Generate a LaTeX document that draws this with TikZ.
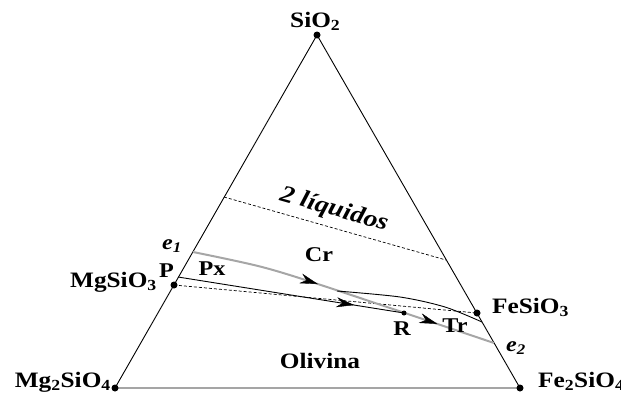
\documentclass[tikz,border=0pt]{standalone}
\usepackage{fontspec}
\setmainfont{Liberation Serif}[FakeStretch=1.15]
\usetikzlibrary{arrows.meta,decorations.markings}

\begin{document}
\begin{tikzpicture}[
  x=1pt,y=-1pt,
  >={Stealth[color=black,length=18pt,width=10pt,line width=0.4pt]},
  edge/.style={line width=0.9pt},
  tie/.style={line width=0.7pt,dash pattern=on 3pt off 2pt},
  cotec/.style={draw=black!35,line width=2pt},
  comp/.style={font=\fontsize{22}{22}\selectfont\bfseries,inner sep=0pt},
  lbl/.style={font=\fontsize{21}{21}\selectfont\bfseries,inner sep=0pt},
  elbl/.style={font=\fontsize{21}{21}\selectfont\bfseries\itshape,inner sep=0pt},
  dot/.style={circle,fill=black,inner sep=0pt,minimum size=7pt}
]
  \useasboundingbox (0,0) rectangle (621,399);

  % vertices and points of the diagram
  \coordinate (SiO2) at (317,35);
  \coordinate (Mg2) at (115,388);
  \coordinate (Fe2) at (520,388);
  \coordinate (P) at (174,285);
  \coordinate (FeSi) at (477,313);
  \coordinate (e1) at (193,252);
  \coordinate (e2) at (494,343);
  \coordinate (R) at (404,313);
  \coordinate (Lq1) at (224,197);
  \coordinate (Lq2) at (446,260);
  \coordinate (Px0) at (178,277);
  \coordinate (g1) at (262,267);
  \coordinate (g2) at (330,288);
  \coordinate (b0) at (337,291);
  \coordinate (b1) at (400,297);
  \coordinate (b2) at (445,307);
  \coordinate (b3) at (482,322);

  \draw[edge] (Mg2) -- (SiO2) -- (Fe2) -- cycle;

  \draw[tie] (Lq1) -- (Lq2);
  \draw[tie] (P) -- (FeSi);

  % cotectic e1 -> e2
  \draw[cotec,decoration={markings,
      mark=at position 0.41 with {\arrow{>}},
      mark=at position 0.81 with {\arrow{>}}},
    postaction={decorate}]
    plot[smooth] coordinates {(e1) (g1) (g2) (e2)};

  \draw[edge,decoration={markings,
      mark=at position 0.78 with {\arrow{>}}},
    postaction={decorate}] (Px0) -- (R);

  \draw[edge] plot[smooth] coordinates {(b0) (b1) (b2) (b3)};

  \foreach \p in {SiO2,Mg2,Fe2,P,FeSi}
    \node[dot] at (\p) {};
  \node[dot,minimum size=5pt] at (R) {};

  % labels
  \node[comp,anchor=base west] (lSiO2) at (290,27) {SiO\textsubscript{2}};
  \node[comp,anchor=base east] (lMg2) at (111,387) {Mg\textsubscript{2}SiO\textsubscript{4}};
  \node[comp,anchor=base west] (lFe2) at (538,387) {Fe\textsubscript{2}SiO\textsubscript{4}};
  \node[comp,anchor=base east] (lMgSi) at (157,287) {MgSiO\textsubscript{3}};
  \node[comp,anchor=base west] (lFeSi) at (492,313) {FeSiO\textsubscript{3}};
  \node[lbl,anchor=base west] (lP) at (159,277) {P};
  \node[lbl] (lPx) at (212,269) {Px};
  \node[lbl] (lCr) at (319,255) {Cr};
  \node[lbl] (lR) at (402,329) {R};
  \node[lbl] (lTr) at (455,326) {Tr};
  \node[lbl,font=\fontsize{22}{22}\selectfont\bfseries] (lOl) at (320,361) {Olivina};
  \node[elbl] (le1) at (172,246) {e\textsubscript{1}};
  \node[elbl] (le2) at (516,348) {e\textsubscript{2}};
  \node[elbl,font=\fontsize{24}{24}\selectfont\bfseries\itshape,rotate=-16] (lLiq) at (334,210) {2 líquidos};
\end{tikzpicture}
\end{document}
